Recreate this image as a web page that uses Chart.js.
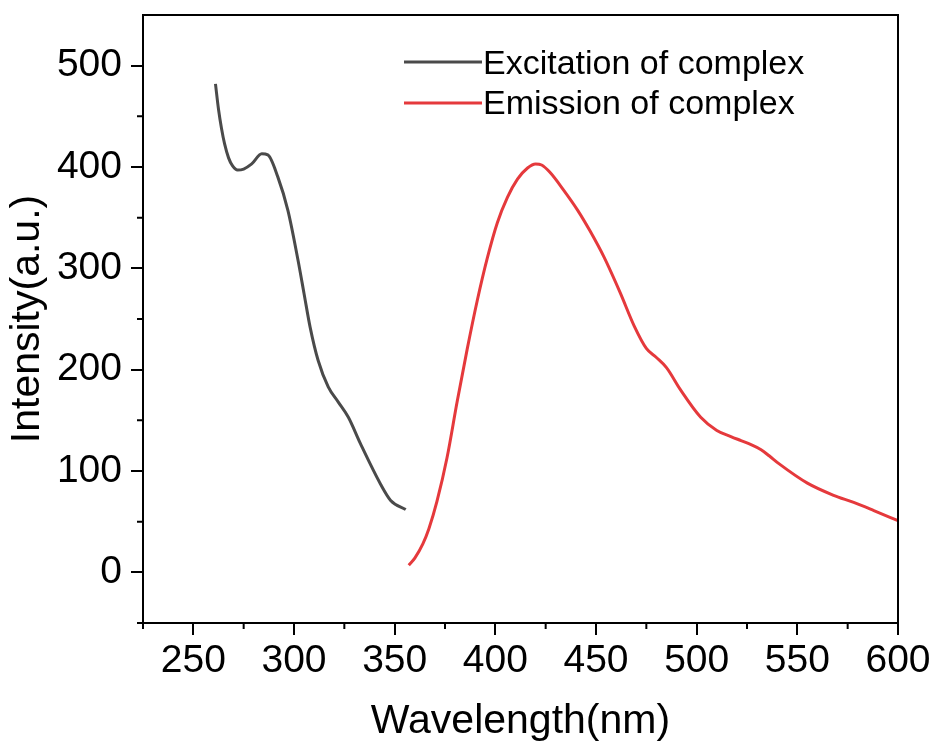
<!DOCTYPE html>
<html><head><meta charset="utf-8">
<script src="https://cdn.jsdelivr.net/npm/chart.js@4/dist/chart.umd.min.js"></script>
<style>html,body{margin:0;padding:0;background:#fff}#wrap{width:936px;height:749px}</style>
</head><body><div id="wrap"><canvas id="c" width="936" height="749"></canvas></div>
<script>
// ---- data ----
const excitationX = [261, 262.5, 264, 265.5, 267.5, 269.5, 272, 275, 279, 284, 287, 292, 297, 302, 305, 308, 312, 317, 322, 327, 333, 343, 348, 355.5];
const excitationY = [482, 457, 438, 423, 409, 401, 397, 398, 403, 413, 412, 390, 357, 308, 275, 242, 209, 183, 168, 153, 127, 87, 71, 62];
const emissionX = [357, 360, 364, 367, 371, 376, 381, 386, 391, 396, 401, 406, 411, 416, 420, 423, 427, 434, 441, 447, 454, 462, 469, 475, 480, 485, 492, 502, 510, 517, 522, 527, 532, 536, 541, 555, 568, 578, 588, 600];
const emissionY = [7, 14, 28, 43, 70, 113, 168, 220, 268, 310, 345, 370, 388, 399, 403, 402, 395, 377, 357, 337, 311, 276, 243, 221, 212, 202, 180, 153, 140, 134, 130, 126, 121, 115, 107, 88, 76, 69, 61, 51];
const seriesLabels = ['Excitation of complex', 'Emission of complex'];
const xMajorTicks = [250, 300, 350, 400, 450, 500, 550, 600];
const xMinorTicks = [225, 275, 325, 375, 425, 475, 525, 575];
const yMajorTicks = [0, 100, 200, 300, 400, 500];
const yMinorTicks = [-50, 50, 150, 250, 350, 450];
const xTitle = 'Wavelength(nm)';
const yTitle = 'Intensity(a.u.)';

const FONT = "'Liberation Sans', Arial, sans-serif";

const framePlugin = {
  id: 'frame',
  afterDraw(chart) {
    const {ctx, chartArea: a, scales} = chart;
    ctx.save();
    ctx.strokeStyle = '#000';
    ctx.lineWidth = 2;
    ctx.strokeRect(a.left, a.top, a.right - a.left, a.bottom - a.top);
    // minor ticks
    ctx.beginPath();
    xMinorTicks.forEach(v => {
      const px = scales.x.getPixelForValue(v);
      ctx.moveTo(px, a.bottom); ctx.lineTo(px, a.bottom + 6);
    });
    yMinorTicks.forEach(v => {
      const py = scales.y.getPixelForValue(v);
      ctx.moveTo(a.left, py); ctx.lineTo(a.left - 6, py);
    });
    ctx.stroke();
    // legend
    ctx.font = '34px ' + FONT;
    ctx.textBaseline = 'alphabetic';
    ctx.textAlign = 'left';
    const rows = [{ly: 62, ty: 74}, {ly: 103, ty: 114}];
    chart.data.datasets.forEach((ds, i) => {
      const r = rows[i];
      ctx.strokeStyle = ds.borderColor;
      ctx.lineWidth = 3;
      ctx.beginPath(); ctx.moveTo(404, r.ly); ctx.lineTo(482, r.ly); ctx.stroke();
      ctx.fillStyle = '#000';
      ctx.fillText(ds.label, 483, r.ty);
    });
    ctx.restore();
  }
};

new Chart(document.getElementById('c'), {
  type: 'line',
  data: {
    datasets: [
      {label: seriesLabels[0], data: excitationX.map((x, i) => ({x, y: excitationY[i]})), borderColor: '#4a4a4a', borderWidth: 3, pointRadius: 0, cubicInterpolationMode: 'monotone', fill: false},
      {label: seriesLabels[1], data: emissionX.map((x, i) => ({x, y: emissionY[i]})), borderColor: '#e5393c', borderWidth: 3, pointRadius: 0, cubicInterpolationMode: 'monotone', fill: false}
    ]
  },
  options: {
    responsive: false, animation: false, devicePixelRatio: 1,
    layout: {padding: {top: 15, right: 38, left: 0, bottom: 0}},
    plugins: {legend: {display: false}, tooltip: {enabled: false}},
    scales: {
      x: {
        type: 'linear', min: 225, max: 600,
        afterBuildTicks: s => { s.ticks = xMajorTicks.map(v => ({value: v})); },
        afterFit: s => { s.height = 126; s.paddingLeft = 0; s.paddingRight = 0; },
        grid: {drawOnChartArea: false, drawTicks: true, tickLength: 12, color: '#000', lineWidth: 2},
        border: {display: true, color: '#000', width: 2},
        ticks: {color: '#000', font: {family: FONT, size: 39}, padding: 3, maxRotation: 0, autoSkip: false},
        title: {display: true, text: xTitle, color: '#000', font: {family: FONT, size: 41}, padding: {top: 0, bottom: 3}}
      },
      y: {
        type: 'linear', min: -50, max: 550,
        afterBuildTicks: s => { s.ticks = yMajorTicks.map(v => ({value: v})); },
        afterFit: s => { s.width = 143; s.paddingTop = 0; s.paddingBottom = 0; },
        grid: {drawOnChartArea: false, drawTicks: true, tickLength: 12, color: '#000', lineWidth: 2},
        border: {display: true, color: '#000', width: 2},
        ticks: {color: '#000', font: {family: FONT, size: 39}, padding: 9, autoSkip: false},
        title: {display: true, text: yTitle, color: '#000', font: {family: FONT, size: 41}, padding: {top: 3, bottom: 0}}
      }
    }
  },
  plugins: [framePlugin]
});
</script></body></html>
